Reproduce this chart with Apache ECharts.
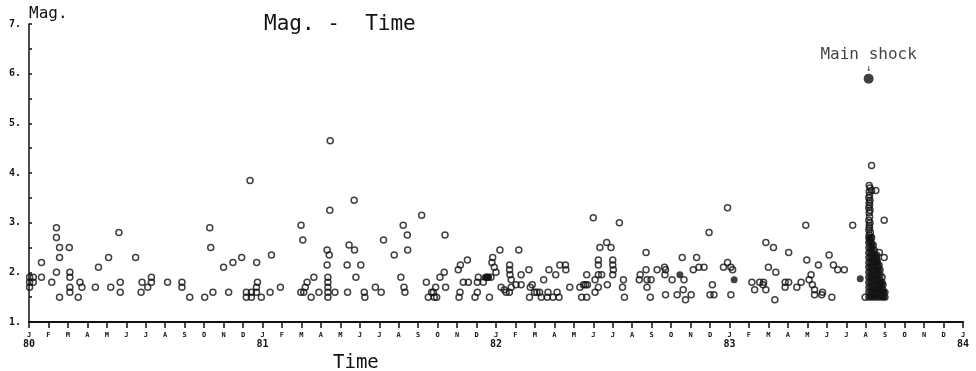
<!DOCTYPE html>
<html>
<head>
<meta charset="utf-8">
<script src="https://cdn.jsdelivr.net/npm/echarts@6/dist/echarts.min.js"></script>
<style>
  html, body { margin: 0; padding: 0; background: #fff; }
  #chart { width: 976px; height: 371px; }
</style>
</head>
<body>
<div id="chart"></div>
<script>
// x = months since Jan 1980, y = magnitude
const monthLetters = ["J", "F", "M", "A", "M", "J", "J", "A", "S", "O", "N", "D"];
const yearLabels = ["80", "81", "82", "83", "84"];

const events1980 = [
  [0.03, 1.9], [0.22, 1.9], [0.03, 1.8], [0.22, 1.8], [0.03, 1.7], [0.64, 2.2], [0.64, 1.9],
  [1.17, 1.8], [1.41, 2.9], [1.41, 2.7], [1.41, 2.0], [1.57, 2.5], [1.57, 2.3], [1.57, 1.5],
  [2.07, 2.5], [2.1, 2.0], [2.1, 1.9], [2.1, 1.7], [2.1, 1.6], [2.62, 1.8], [2.72, 1.7],
  [2.53, 1.5], [3.41, 1.7], [3.57, 2.1], [4.09, 2.3], [4.2, 1.7], [4.62, 2.8], [4.69, 1.8],
  [4.69, 1.6], [5.48, 2.3], [5.76, 1.6], [5.81, 1.8], [6.1, 1.7], [6.29, 1.9], [6.29, 1.8],
  [7.12, 1.8], [7.86, 1.8], [7.86, 1.7], [8.26, 1.5], [9.03, 1.5], [9.29, 2.9], [9.34, 2.5],
  [9.45, 1.6], [10.0, 2.1], [10.26, 1.6], [10.48, 2.2], [10.93, 2.3], [11.17, 1.6], [11.17, 1.5],
  [11.36, 3.85], [11.43, 1.6], [11.43, 1.5], [11.69, 1.6], [11.69, 1.7], [11.74, 1.8],
  [11.7, 2.2], [11.94, 1.5]
];

const events1981 = [
  [12.39, 1.6], [12.46, 2.35], [12.92, 1.7], [13.98, 2.95], [14.07, 2.65], [13.97, 1.6],
  [14.12, 1.6], [14.2, 1.7], [14.29, 1.8], [14.5, 1.5], [14.64, 1.9], [14.9, 1.6],
  [15.48, 4.65], [15.46, 3.25], [15.32, 2.45], [15.43, 2.35], [15.32, 2.15], [15.36, 1.9],
  [15.36, 1.8], [15.36, 1.7], [15.36, 1.6], [15.36, 1.5], [15.72, 1.6], [16.37, 1.6],
  [16.35, 2.15], [16.45, 2.55], [16.73, 2.45], [16.71, 3.45], [16.8, 1.9], [17.05, 2.15],
  [17.23, 1.6], [17.26, 1.5], [17.8, 1.7], [18.1, 1.6], [18.22, 2.65], [18.77, 2.35],
  [19.11, 1.9], [19.23, 2.95], [19.27, 1.7], [19.32, 1.6], [19.44, 2.75], [19.46, 2.45],
  [20.18, 3.15], [20.42, 1.8], [20.52, 1.5], [20.69, 1.6], [20.78, 1.6], [20.9, 1.7],
  [20.83, 1.5], [20.95, 1.5], [21.12, 1.9], [21.34, 2.0], [21.38, 2.75], [21.41, 1.7],
  [22.06, 2.05], [22.17, 2.15], [22.53, 2.25], [22.15, 1.6], [22.1, 1.5], [22.32, 1.8],
  [22.58, 1.8], [22.92, 1.5], [23.04, 1.6], [23.04, 1.8], [23.09, 1.9], [23.35, 1.8],
  [23.52, 1.9], [23.66, 1.5], [23.83, 2.3], [23.79, 2.2], [23.91, 2.1], [23.57, 1.9],
  [23.74, 1.9]
];

const events1982 = [
  [24.0, 2.0], [24.2, 2.45], [24.26, 1.7], [24.43, 1.65], [24.52, 1.6], [24.69, 1.6],
  [24.78, 1.7], [24.7, 2.15], [24.7, 2.05], [24.72, 1.95], [24.78, 1.85], [25.03, 1.75],
  [25.29, 1.75], [25.17, 2.45], [25.29, 1.95], [25.69, 2.05], [25.76, 1.7], [25.86, 1.75],
  [25.72, 1.5], [25.98, 1.6], [26.1, 1.6], [26.24, 1.6], [26.33, 1.5], [26.45, 1.85],
  [26.67, 1.6], [26.64, 1.5], [26.72, 2.05], [26.93, 1.5], [27.07, 1.95], [27.14, 1.6],
  [27.24, 1.5], [27.28, 2.15], [27.57, 2.15], [27.59, 2.05], [27.79, 1.7], [28.31, 1.7],
  [28.4, 1.5], [28.66, 1.5], [28.5, 1.75], [28.6, 1.75], [28.7, 1.75], [28.66, 1.95],
  [29.0, 3.1], [29.09, 1.6], [29.09, 1.85], [29.26, 1.95], [29.43, 1.95], [29.26, 2.25],
  [29.26, 2.15], [29.34, 2.5], [29.69, 2.6], [29.91, 2.5], [29.26, 1.7], [29.72, 1.75],
  [30.0, 2.25], [30.0, 2.15], [30.03, 2.05], [30.0, 1.95], [30.34, 3.0], [30.55, 1.85],
  [30.5, 1.7], [30.6, 1.5], [31.36, 1.85], [31.41, 1.95], [31.71, 2.4], [31.71, 2.05],
  [31.76, 1.85], [31.97, 1.85], [31.76, 1.7], [31.93, 1.5], [32.28, 2.05], [32.66, 2.1],
  [32.71, 2.05], [32.68, 1.95], [32.71, 1.55], [33.05, 1.85], [33.31, 1.55], [33.57, 2.3],
  [33.66, 1.85], [33.62, 1.65], [33.74, 1.45], [34.03, 1.55], [34.14, 2.05], [34.31, 2.3],
  [34.43, 2.1], [34.69, 2.1], [34.95, 2.8], [35.12, 1.75], [35.0, 1.55], [35.2, 1.55],
  [35.69, 2.1], [35.9, 2.2], [35.9, 3.3]
];

const events1983 = [
  [36.07, 2.1], [36.16, 2.05], [36.07, 1.55], [37.15, 1.8], [37.29, 1.65], [37.55, 1.8],
  [37.75, 1.8], [37.87, 1.65], [37.72, 1.75], [37.87, 2.6], [38.26, 2.5], [38.0, 2.1],
  [38.38, 2.0], [38.33, 1.45], [38.86, 1.8], [39.04, 1.8], [38.86, 1.7], [39.04, 2.4],
  [39.46, 1.7], [39.68, 1.8], [39.92, 2.95], [39.97, 2.25], [40.09, 1.85], [40.19, 1.95],
  [40.26, 1.75], [40.37, 1.65], [40.37, 1.55], [40.74, 1.55], [40.57, 2.15], [40.78, 1.6],
  [41.12, 2.35], [41.26, 1.5], [41.34, 2.15], [41.56, 2.05], [41.9, 2.05], [42.33, 2.95],
  [42.97, 1.5], [43.3, 4.15], [43.52, 3.65], [43.95, 3.05], [43.95, 2.3], [43.7, 2.4],
  [43.84, 1.9]
];

// overlapping circles that read as solid dots
const solidDots = [
  [23.45, 1.9], [23.62, 1.9], [33.45, 1.95], [36.24, 1.85], [42.72, 1.87]
];

const aftershockColumn = [
  [43.18, 3.75], [43.22, 3.7], [43.3, 3.65], [43.18, 3.62], [43.2, 3.55], [43.16, 3.5],
  [43.22, 3.45], [43.18, 3.4], [43.2, 3.35], [43.16, 3.3], [43.22, 3.25], [43.18, 3.2],
  [43.2, 3.12], [43.16, 3.05], [43.22, 3.0], [43.18, 2.95], [43.2, 2.9], [43.16, 2.85],
  [43.24, 2.8], [43.18, 2.75], [43.3, 2.7], [43.2, 2.65], [43.55, 2.3], [43.62, 2.1]
];

const aftershockCore = [
  [43.15, 2.7], [43.28, 2.7],
  [43.15, 2.6], [43.3, 2.6], [43.4, 2.55],
  [43.15, 2.5], [43.3, 2.5], [43.45, 2.45],
  [43.15, 2.4], [43.3, 2.4], [43.45, 2.35], [43.58, 2.35],
  [43.15, 2.3], [43.3, 2.3], [43.45, 2.25], [43.6, 2.25],
  [43.15, 2.2], [43.3, 2.2], [43.45, 2.15], [43.6, 2.2], [43.7, 2.15],
  [43.15, 2.1], [43.3, 2.1], [43.45, 2.05], [43.6, 2.05], [43.75, 2.05],
  [43.15, 2.0], [43.3, 2.0], [43.45, 1.95], [43.6, 1.95], [43.75, 1.95],
  [43.15, 1.9], [43.3, 1.9], [43.45, 1.85], [43.6, 1.85], [43.75, 1.85], [43.85, 1.8],
  [43.15, 1.8], [43.3, 1.8], [43.45, 1.75], [43.6, 1.75], [43.75, 1.75], [43.9, 1.75],
  [43.15, 1.7], [43.3, 1.7], [43.45, 1.65], [43.6, 1.65], [43.75, 1.7], [43.9, 1.65],
  [43.15, 1.6], [43.3, 1.6], [43.45, 1.55], [43.6, 1.6], [43.75, 1.6], [43.9, 1.6], [44.0, 1.6],
  [43.15, 1.5], [43.3, 1.5], [43.45, 1.5], [43.6, 1.5], [43.75, 1.5], [43.9, 1.5], [44.0, 1.5]
];

const mainShock = [[43.15, 5.9]];

const mono = "DejaVu Sans Mono";

const openCircle = {
  type: "scatter",
  symbol: "circle",
  symbolSize: 6,
  itemStyle: { color: "rgba(255,255,255,0)", borderColor: "#111", borderWidth: 1.5 },
  silent: true,
};

const chart = echarts.init(document.getElementById("chart"), null, { renderer: "canvas" });

chart.setOption({
  animation: false,
  backgroundColor: "#fff",
  title: [
    {
      text: "Mag. -  Time",
      left: 259,
      top: 9,
      textStyle: { fontFamily: mono, fontSize: 21, fontWeight: "normal", color: "#111" },
    },
    {
      text: "Time",
      left: 328,
      top: 349,
      textStyle: { fontFamily: mono, fontSize: 19, fontWeight: "normal", color: "#111" },
    },
  ],
  grid: { left: 29, right: 13, top: 24, bottom: 49 },
  xAxis: {
    type: "value",
    min: 0,
    max: 48,
    interval: 1,
    splitLine: { show: false },
    axisLine: { lineStyle: { color: "#111", width: 2 } },
    axisTick: { length: 6, lineStyle: { color: "#111", width: 1.5 } },
    axisLabel: {
      margin: 9,
      formatter: (v) => {
        const m = monthLetters[v % 12];
        if (v % 12 === 0) return "{m|" + m + "}\n{y|" + yearLabels[v / 12] + "}";
        return "{m|" + m + "}";
      },
      rich: {
        m: { fontFamily: mono, fontSize: 7, fontWeight: "bold", color: "#111", lineHeight: 8 },
        y: { fontFamily: mono, fontSize: 10, fontWeight: "bold", color: "#111", lineHeight: 10 },
      },
      verticalAlign: "top",
    },
  },
  yAxis: {
    type: "value",
    min: 1,
    max: 7,
    interval: 1,
    name: "Mag.",
    nameLocation: "end",
    nameGap: 2,
    nameTextStyle: {
      fontFamily: mono, fontSize: 16, color: "#111", align: "left", verticalAlign: "bottom",
    },
    splitLine: { show: false },
    axisLine: { lineStyle: { color: "#111", width: 1.5 } },
    axisTick: { inside: true, length: 3, lineStyle: { color: "#111", width: 1.5 } },
    minorTick: { show: true, splitNumber: 2, length: 3, lineStyle: { color: "#111", width: 1.5 } },
    axisLabel: {
      margin: 8,
      fontFamily: mono,
      fontSize: 10,
      fontWeight: "bold",
      color: "#111",
      formatter: (v) => v + ".",
    },
  },
  series: [
    Object.assign({ name: "1980", data: events1980 }, openCircle),
    Object.assign({ name: "1981", data: events1981 }, openCircle),
    Object.assign({ name: "1982", data: events1982 }, openCircle),
    Object.assign({ name: "1983", data: events1983 }, openCircle),
    Object.assign({ name: "aftershock column", data: aftershockColumn }, openCircle),
    {
      name: "solid",
      type: "scatter",
      data: solidDots,
      symbolSize: 7,
      itemStyle: { color: "#111" },
      silent: true,
    },
    {
      name: "aftershock core",
      type: "scatter",
      data: aftershockCore,
      symbolSize: 7,
      itemStyle: { color: "#111" },
      silent: true,
    },
    {
      name: "Main shock",
      type: "scatter",
      data: mainShock,
      symbolSize: 10,
      itemStyle: { color: "#111" },
      silent: true,
      label: {
        show: true,
        position: "top",
        distance: 0,
        formatter: "{t|Main shock}\n{a|↓}",
        rich: {
          t: { fontFamily: mono, fontSize: 16, color: "#111", lineHeight: 17 },
          a: { fontFamily: mono, fontSize: 10, color: "#111", lineHeight: 10 },
        },
      },
    },
  ],
});
</script>
</body>
</html>
